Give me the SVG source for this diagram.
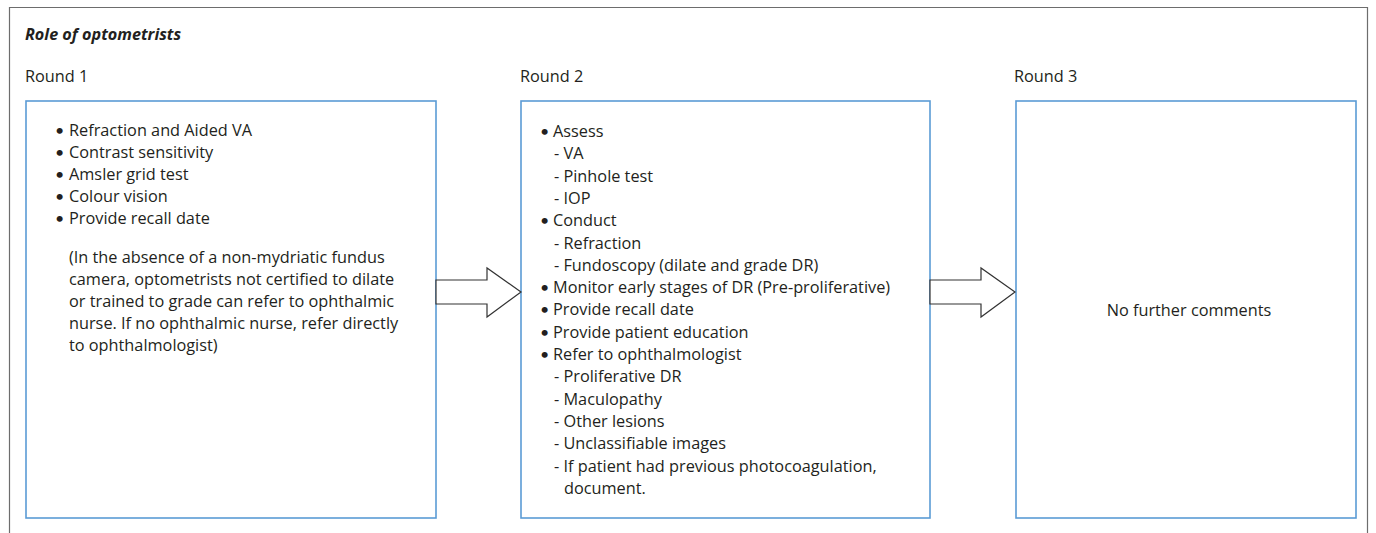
<svg xmlns="http://www.w3.org/2000/svg" width="1376" height="533" viewBox="0 0 1376 533">
  <style>
    text { font-family: "Open Sans", Lato, "Liberation Sans", sans-serif; font-size: 16.3px; fill: #231f20; }
    .title { font-weight: bold; font-style: italic; font-size: 16.2px; }
    .b { font-family: Lato, "Liberation Sans", sans-serif; font-size: 16px; }
    .box { fill: #ffffff; stroke: #5b9bd5; stroke-width: 1.6; }
    .arrow { fill: #ffffff; stroke: #333333; stroke-width: 1.2; stroke-linejoin: miter; }
    .frame { fill: none; stroke: #6d6d6d; stroke-width: 1.2; }
  </style>

  <rect x="0" y="0" width="1376" height="533" fill="#ffffff"/>
  <!-- outer panel frame (open at the bottom) -->
  <path class="frame" d="M9.5,533 V7.5 H1367.5 V533"/>

  <text class="title" x="25" y="40">Role of optometrists</text>
  <text x="25" y="82">Round 1</text>
  <text x="520" y="82">Round 2</text>
  <text x="1014" y="82">Round 3</text>

  <g id="round1">
    <rect class="box" x="26" y="101" width="410" height="417"/>
    <text class="b" x="55" y="136">•</text><text x="69" y="136">Refraction and Aided VA</text>
    <text class="b" x="55" y="158">•</text><text x="69" y="158">Contrast sensitivity</text>
    <text class="b" x="55" y="180">•</text><text x="69" y="180">Amsler grid test</text>
    <text class="b" x="55" y="202">•</text><text x="69" y="202">Colour vision</text>
    <text class="b" x="55" y="224">•</text><text x="69" y="224">Provide recall date</text>
    <text x="69" y="263">(In the absence of a non-mydriatic fundus</text>
    <text x="69" y="285">camera, optometrists not certified to dilate</text>
    <text x="69" y="307">or trained to grade can refer to ophthalmic</text>
    <text x="69" y="329">nurse. If no ophthalmic nurse, refer directly</text>
    <text x="69" y="351">to ophthalmologist)</text>
  </g>

  <g id="round2">
    <rect class="box" x="521" y="101" width="409" height="417"/>
    <text class="b" x="540" y="137">•</text><text x="553" y="137">Assess</text>
    <text x="554" y="159.3">- VA</text>
    <text x="554" y="181.6">- Pinhole test</text>
    <text x="554" y="203.9">- IOP</text>
    <text class="b" x="540" y="226.2">•</text><text x="553" y="226.2">Conduct</text>
    <text x="554" y="248.5">- Refraction</text>
    <text x="554" y="270.8">- Fundoscopy (dilate and grade DR)</text>
    <text class="b" x="540" y="293.1">•</text><text x="553" y="293.1">Monitor early stages of DR (Pre-proliferative)</text>
    <text class="b" x="540" y="315.4">•</text><text x="553" y="315.4">Provide recall date</text>
    <text class="b" x="540" y="337.7">•</text><text x="553" y="337.7">Provide patient education</text>
    <text class="b" x="540" y="360">•</text><text x="553" y="360">Refer to ophthalmologist</text>
    <text x="554" y="382.3">- Proliferative DR</text>
    <text x="554" y="404.6">- Maculopathy</text>
    <text x="554" y="426.9">- Other lesions</text>
    <text x="554" y="449.2">- Unclassifiable images</text>
    <text x="554" y="471.5">- If patient had previous photocoagulation,</text>
    <text x="564" y="493.8">document.</text>
  </g>

  <g id="round3">
    <rect class="box" x="1016" y="101" width="340" height="417"/>
    <text x="1189" y="316" text-anchor="middle">No further comments</text>
  </g>

  <g id="connectors">
    <polygon class="arrow" points="436,280 487,280 487,268 521,292 487,317 487,304 436,304"/>
    <polygon class="arrow" points="930,280 981,280 981,268 1015,292 981,317 981,304 930,304"/>
  </g>
</svg>
